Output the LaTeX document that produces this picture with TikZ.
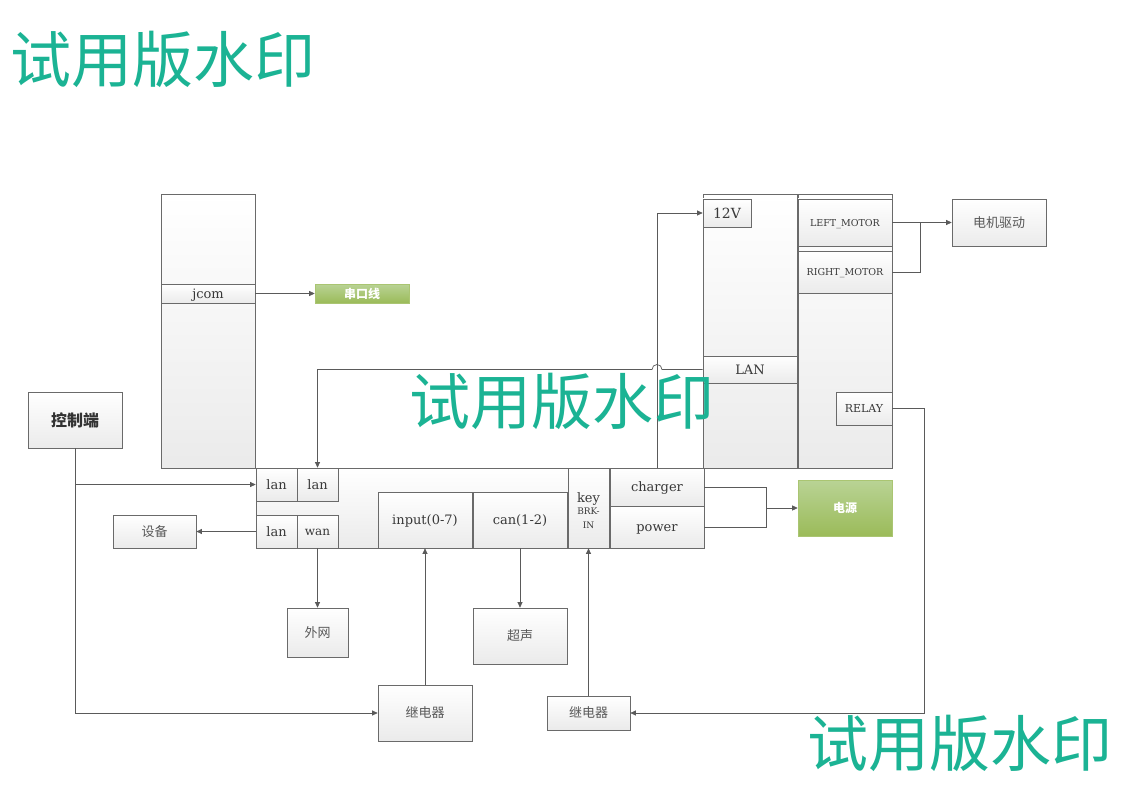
\documentclass[tikz,border=0pt]{standalone}
\usepackage{fontspec}
\setmainfont{DejaVu Serif}
\newfontfamily\cjk{Noto Sans CJK SC}
\usetikzlibrary{arrows.meta,shadows,calc}

\definecolor{edge}{HTML}{6A6A6A}
\definecolor{wirec}{HTML}{5A5A5A}
\definecolor{txt}{HTML}{383838}
\definecolor{cjktxt}{HTML}{595959}
\definecolor{wmark}{HTML}{1BB394}
\definecolor{gtop}{HTML}{B9D395}
\definecolor{gbot}{HTML}{9BBB59}

\tikzset{
  base/.style={draw=edge, line width=0.7pt, top color=white, bottom color=black!8,
    drop shadow={shadow xshift=1.3pt, shadow yshift=-1.3pt, fill=black, opacity=0.18},
    inner sep=0pt},
  box/.style={base, text=txt, font=\fontsize{13}{15}\selectfont, text depth=0pt, text height=9.5pt},
  cbox/.style={base, text=cjktxt, font=\cjk\fontsize{13}{15}\selectfont},
  gbox/.style={draw=gbot!85!white, line width=0.6pt, top color=gtop, bottom color=gbot,
    drop shadow={shadow xshift=1.3pt, shadow yshift=-1.3pt, fill=black, opacity=0.15},
    inner sep=0pt, text=white, font=\cjk\bfseries\fontsize{12}{14}\selectfont},
  sz/.style 2 args={minimum width=#1pt, minimum height=#2pt},
  wire/.style={draw=wirec, line width=0.7pt},
  arr/.style={wire, -{Triangle[length=5.5pt,width=5pt]}},
  wm/.style={text=wmark, font=\cjk\fontsize{61}{64}\selectfont, inner sep=0pt},
}

\begin{document}
\begin{tikzpicture}[x=1pt,y=-1pt]
\useasboundingbox (0,0) rectangle (1123,794);
\fill[white] (0,0) rectangle (1123,794);

% serial host
\node[box, sz={94}{274}] (host) at (208,331) {};
\node[box, sz={94}{19}] (jcom) at (208,293.5) {jcom};
\node[gbox, sz={94}{19}] (serial) at (362,293.5) {串口线};

% controller and device
\node[cbox, sz={94}{56}, font=\cjk\bfseries\fontsize{16}{18}\selectfont, text=black!80] (ctrl) at (75,420) {控制端};
\node[cbox, sz={83}{33}] (dev) at (154.5,531.5) {设备};

% motor board
\node[box, sz={94}{274}] (pcbA) at (750,331) {};
\node[box, sz={94}{274}] (pcbB) at (845,331) {};
\node[box, sz={48}{28}, font=\fontsize{14}{16}\selectfont, text height=10.2pt] (v12) at (727,213) {12V};
\node[box, sz={94}{27}] (lanR) at (750,369.5) {LAN};
\node[box, sz={94}{47}, font=\fontsize{9.5}{11}\selectfont, text height=7pt] (lmot) at (845,222.5) {LEFT\_MOTOR};
\node[box, sz={94}{42}, font=\fontsize{9.5}{11}\selectfont, text height=7pt] (rmot) at (845,272) {RIGHT\_MOTOR};
\node[box, sz={56}{33}, font=\fontsize{11}{13}\selectfont, text height=8pt] (relay) at (864,408.5) {RELAY};
\node[cbox, sz={94}{47}] (motor) at (999,222.5) {电机驱动};

% main controller board
\node[box, sz={448}{80}] (main) at (480,508) {};
\node[box, sz={41}{33}] (lan1) at (276.5,484.5) {lan};
\node[box, sz={41}{33}] (lan2) at (317.5,484.5) {lan};
\node[box, sz={41}{33}] (lan3) at (276.5,531.5) {lan};
\node[box, sz={41}{33}, font=\fontsize{12}{14}\selectfont, text height=8.8pt] (wan) at (317.5,531.5) {wan};
\node[box, sz={94}{56}] (inp) at (425,520) {input(0-7)};
\node[box, sz={94}{56}] (can) at (520,520) {can(1-2)};
\node[box, sz={41}{80}, align=center, text height=41.5pt, text depth=] (key) at (588.5,508) {key\\[-3pt]{\fontsize{9}{10}\selectfont BRK-}\\[-1pt]{\fontsize{9}{10}\selectfont IN}};
\node[box, sz={94}{38}] (chg) at (657,487) {charger};
\node[box, sz={94}{42}] (pwr) at (657,527) {power};
\node[gbox, sz={94}{56}] (psu) at (845,508) {电源};

% peripherals
\node[cbox, sz={61}{49}] (wnet) at (317.5,632.5) {外网};
\node[cbox, sz={94}{56}] (sonar) at (520,636) {超声};
\node[cbox, sz={94}{56}] (rel1) at (425,713) {继电器};
\node[cbox, sz={83}{34}] (rel2) at (588.5,713) {继电器};

% junction points
\coordinate (mj) at (920,222.5);
\coordinate (pj) at (766,508);

% connectors
\draw[arr] (jcom.east) -- (serial.west);
\draw[arr] (lmot.east) -- (motor.west);
\draw[wire] (rmot.east) -| (mj);
\draw[arr] (ctrl.south) |- (rel1.west);
\draw[arr] (ctrl.south |- lan1.west) -- (lan1.west);
\draw[arr] (lan3.west) -- (dev.east);
\draw[arr] (wan.south) -- (wnet.north);
\draw[arr] (rel1.north) -- (inp.south);
\draw[arr] (can.south) -- (sonar.north);
\draw[arr] (rel2.north) -- (key.south);
\draw[arr] (relay.east) -- ++(32,0) |- (rel2.east);
\draw[wire] (chg.east) -| (pj);
\draw[wire] (pwr.east) -| (pj);
\draw[arr] (pj) -- (psu.west);
\draw[arr] (chg.north) |- (v12.west);
\draw[arr] (lanR.west) -- ($(chg.north |- lanR.west)+(5,0)$) arc[start angle=0,end angle=180,radius=5pt] -- (lan2.north |- lanR.west) -- (lan2.north);

% watermarks
\node[wm] (wm1) at (163,59) {试用版水印};
\node[wm] (wm2) at (562,401) {试用版水印};
\node[wm] (wm3) at (960,743) {试用版水印};
\end{tikzpicture}
\end{document}
